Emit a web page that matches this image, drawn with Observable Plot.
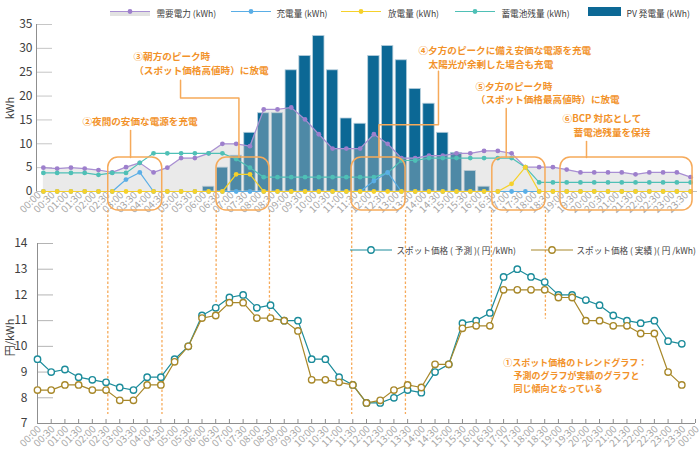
<!DOCTYPE html>
<html><head><meta charset="utf-8">
<script src="https://cdn.jsdelivr.net/npm/d3@7"></script>
<script src="https://cdn.jsdelivr.net/npm/@observablehq/plot@0.6"></script>
<style>
body{margin:0;background:#fff;font-family:"Noto Sans CJK JP","Noto Sans",sans-serif;}
#wrap{position:relative;width:700px;height:465px;overflow:hidden;}
#top,#bottom{position:absolute;left:0;}
#top{top:0}
#bottom{top:230px}
.lt{position:absolute;color:#404040;white-space:nowrap;line-height:16px;}
.sw{position:absolute;overflow:visible}
</style></head>
<body><div id="wrap"><div id="top"></div><div id="bottom"></div><div id="legTop"></div><div id="legBottom"></div></div>
<script>
// ---------- data ----------
const times = ["00:00","00:30","01:00","01:30","02:00","02:30","03:00","03:30","04:00","04:30","05:00","05:30","06:00","06:30","07:00","07:30","08:00","08:30","09:00","09:30","10:00","10:30","11:00","11:30","12:00","12:30","13:00","13:30","14:00","14:30","15:00","15:30","16:00","16:30","17:00","17:30","18:00","18:30","19:00","19:30","20:00","20:30","21:00","21:30","22:00","22:30","23:00","23:30"];
const bottomLabels = [...times, "00:00"];

const pv = [0,0,0,0,0,0,0,0,0,0,0,0,1.0,5.0,7.5,12.3,16.4,16.4,25.4,28.4,32.6,25.4,15.3,14.2,28.4,30.5,27.5,21.5,18.4,12.3,8.1,4.3,1.0,0,0,0,0,0,0,0,0,0,0,0,0,0,0,0];
const demand = [5.0,4.8,5.0,4.8,4.5,4.0,5.1,6.0,4.0,5.0,7.0,7.0,8.0,10.0,10.0,9.5,17.2,17.2,17.6,15.1,12.0,9.0,9.0,9.0,12.0,10.0,7.0,7.0,7.5,7.5,8.0,8.0,8.5,8.5,8.0,5.1,5.1,5.1,4.6,4.0,4.0,4.0,4.0,3.6,4.0,4.0,4.0,3.0];
const battery = [3.9,3.9,3.9,3.9,3.5,3.9,3.9,6.0,8.0,8.0,8.0,8.0,8.0,8.0,6.8,5.0,3.0,3.0,3.0,3.0,3.0,3.0,3.0,3.0,3.0,3.9,6.5,6.5,7.0,7.0,7.0,7.0,7.0,7.0,7.0,5.1,1.9,1.9,1.9,1.9,1.9,1.9,1.9,1.9,1.9,1.9,1.9,1.9];
const charge = [0,0,0,0,0,0,2.5,4.0,0,0,0,0,0,0,0,0,0,0,0,0,0,0,0,0,2.2,4.0,0,0,0,0,0,0,0,0,0,0,0,0,0,0,0,0,0,0,0,0,0,0];
const discharge = [0,0,0,0,0,0,0,0,0,0,0,0,0,0,3.6,3.6,0,0,0,0,0,0,0,0,0,0,0,0,0,0,0,0,0,0,1.6,5.1,0,0,0,0,0,0,0,0,0,0,0,0];

const pricePred = [9.5,9.0,9.1,8.8,8.7,8.6,8.4,8.3,8.8,8.8,9.5,10.0,11.2,11.5,11.9,12.0,11.5,11.6,11.0,11.0,9.5,9.5,8.8,8.5,7.8,7.8,8.0,8.3,8.2,9.0,9.3,10.9,11.0,11.3,12.7,13.0,12.7,12.5,12.0,12.0,11.8,11.6,11.2,11.0,10.9,11.0,10.2,10.1];
const priceAct = [8.3,8.3,8.5,8.5,8.3,8.3,7.9,7.9,8.5,8.5,9.4,10.0,11.1,11.2,11.7,11.7,11.1,11.1,11.0,10.6,8.7,8.7,8.6,8.5,7.8,7.9,8.3,8.5,8.4,9.3,9.3,10.7,10.8,10.8,12.2,12.2,12.2,12.2,11.9,11.9,11.0,11.0,10.8,10.8,10.5,10.5,9.0,8.5];

const topTicks = [0,5,10,15,20,25,30,35];
const bottomTicks = [7,8,9,10,11,12,13,14];

const seriesNames = ["需要電力 (kWh)","充電量 (kWh)","放電量 (kWh)","蓄電池残量 (kWh)","PV 発電量 (kWh)"];
const priceNames = ["スポット価格 ( 予測 )( 円 /kWh)","スポット価格 ( 実績 )( 円 /kWh)"];

// annotations (top chart in slot units, bottom chart in time-index units)
const annoBoxes = [{u1:4.71,u2:8.63},{u1:12.57,u2:16.42},{u1:22.38,u2:26.30},{u1:32.6,u2:36.46},{u1:37.55,u2:47.14}];
const annoTexts = [
  {u:2.84, v:14.5, t:"②夜間の安価な電源を充電"},
  {u:6.54, v:28.2, t:"③朝方のピーク時"},
  {u:6.6, v:25.2, t:"（スポット価格高値時）に放電"},
  {u:27.24, v:29.5, t:"④夕方のピークに備え安価な電源を充電"},
  {u:27.97, v:26.6, t:"太陽光が余剰した場合も充電"},
  {u:31.38, v:21.9, t:"⑤夕方のピーク時"},
  {u:31.4, v:19.2, t:"（スポット価格最高値時）に放電"},
  {u:37.7, v:15.2, t:"⑥BCP 対応として"},
  {u:38.5, v:12.2, t:"蓄電池残量を保持"}
];
const leaders = [
  {id:2,u:6.33,v:12.8},{id:2,u:6.33,v:7.1},
  {id:3,u:9.96,v:23.3},{id:3,u:9.96,v:19.6},{id:3,u:14.2,v:19.6},{id:3,u:14.2,v:7.1},
  {id:4,u:28.69,v:25.2},{id:4,u:28.69,v:14.0},{id:4,u:24.37,v:14.0},{id:4,u:24.37,v:7.1},
  {id:5,u:33.61,v:17.4},{id:5,u:33.61,v:7.1},
  {id:6,u:39.44,v:10.5},{id:6,u:39.44,v:7.1}
];
const dottedTop = [4.68,8.61,12.55,16.42,22.4,26.3,32.54,36.46];
const dottedBottom = [{j:5.13,end:7.35},{j:9.08,end:7.35},{j:13.03,end:11.05},{j:16.92,end:11.05},{j:22.92,end:7.35},{j:26.84,end:7.35},{j:33.11,end:11.05},{j:37.05,end:11.05}];
const noteText = [
  {j:33.97, v:9.36, t:"①スポット価格のトレンドグラフ："},
  {j:34.72, v:8.83, t:"予測のグラフが実績のグラフと"},
  {j:34.72, v:8.32, t:"同じ傾向となっている"}
];

// ---------- styles ----------
const FONT = '"Noto Sans CJK JP","Noto Sans",sans-serif';
const C = {pv:"#0c6895", pvStroke:"#b7cfdc", area:"#c4c4c4", demand:"#a98fd3", demandDot:"#9d7fcc",
  battery:"#4fc0b6", charge:"#5aaee6", discharge:"#f6d12b",
  pred:"#1c8c9b", act:"#a8882a", oText:"#f2922a", oLine:"#f6aa5a", axis:"#8f8f8f"};

const rowsTop = times.map((t,i)=>({i, t, pv:pv[i], demand:demand[i], battery:battery[i], charge:charge[i], discharge:discharge[i]}));
const rowsBottom = times.map((t,i)=>({i, t, pred:pricePred[i], act:priceAct[i]}));

const W = 700;
const topM = {l:36, r:3, t:24, b:39};
const botM = {l:37, r:5, t:13, b:42};

function series(key, color, dotColor){
  return [
    Plot.line(rowsTop, {x:"i", y:key, stroke:color, strokeWidth:1.2}),
    Plot.dot(rowsTop, {x:"i", y:key, r:2.4, fill:dotColor||color})
  ];
}

const topPlot = Plot.plot({
  width: W, height: 230,
  marginLeft: topM.l, marginRight: topM.r, marginTop: topM.t, marginBottom: topM.b,
  style: {background:"transparent", overflow:"visible", fontFamily: FONT, fontSize:"10px"},
  x: {domain:[-0.5, 47.5], label:null},
  y: {domain:[0, 35], label:null},
  marks: [
    Plot.ruleY(topTicks.filter(d=>d>0), {stroke:"#c6c6c6", insetRight: (W-topM.l-topM.r) - 16}),
    Plot.rectY(rowsTop.filter(d=>d.pv>0), {x1:d=>d.i-0.5, x2:d=>d.i+0.5, y:"pv", insetLeft:1.2, insetRight:1.2, fill:C.pv, stroke:C.pvStroke, strokeWidth:0.8}),
    Plot.areaY(rowsTop, {x:"i", y:"demand", fill:C.area, fillOpacity:0.36}),
    Plot.ruleX([-0.5], {stroke:C.axis}),
    Plot.ruleY([0], {stroke:"#c0c0c0"}),
    ...series("demand", C.demand, C.demandDot),
    ...series("battery", C.battery),
    ...series("charge", C.charge),
    ...series("discharge", C.discharge),
    Plot.axisY({ticks: topTicks, tickFormat: d=>String(d), tickSize:0, tickPadding:4, fontSize:12, color:"#404040", label:null}),
    Plot.axisX({ticks: d3.range(times.length), tickFormat: i=>times[i], tickRotate:-45, tickSize:0, tickPadding:2, dx:-4, fontSize:10, color:"#a8a8a8", label:null}),
    Plot.text(["kWh"], {text:d=>d, frameAnchor:"left", textAnchor:"middle", rotate:-90, dx:-26, fontSize:11, fill:"#404040"}),
    Plot.rect(annoBoxes, {x1:"u1", x2:"u2", y1:-3.98, y2:7.1, rx:10, fill:"none", stroke:C.oLine, strokeWidth:1.5}),
    Plot.line(leaders, {x:"u", y:"v", z:"id", stroke:C.oLine, strokeWidth:1.5}),
    Plot.ruleX(dottedTop, {x:d=>d, y1:-3.98, y2:-8.7, stroke:C.oLine, strokeWidth:1.3, strokeDasharray:"2.5,2"}),
    Plot.text(annoTexts, {x:"u", y:"v", text:"t", textAnchor:"start", fill:C.oText, fontWeight:"bold", fontSize:9.6})
  ]
});
document.getElementById("top").append(topPlot);

const bottomPlot = Plot.plot({
  width: W, height: 235,
  marginLeft: botM.l, marginRight: botM.r, marginTop: botM.t, marginBottom: botM.b,
  style: {background:"transparent", overflow:"visible", fontFamily: FONT, fontSize:"10px"},
  x: {domain:[0, 48], label:null},
  y: {domain:[7, 14], label:null},
  marks: [
    Plot.ruleY(bottomTicks.filter(d=>d>7), {stroke:"#b4b4b4", insetRight:(W-botM.l-botM.r) - 16}),
    Plot.ruleX(dottedBottom, {x:"j", y1:14.6, y2:"end", stroke:C.oLine, strokeWidth:1.3, strokeDasharray:"2.5,2"}),
    Plot.ruleX([0], {stroke:C.axis}),
    Plot.ruleY([7], {stroke:C.axis}),
    Plot.axisX({ticks: d3.range(1, bottomLabels.length), tickSize:4, dy:-4, fill:"none", stroke:C.axis, label:null}),
    Plot.axisX({ticks: d3.range(bottomLabels.length), tickFormat: i=>bottomLabels[i], tickRotate:-45, tickSize:0, tickPadding:4, dx:2, fontSize:10, color:"#a8a8a8", label:null}),
    Plot.axisY({ticks: bottomTicks, tickFormat: d=>String(d), tickSize:0, tickPadding:10, fontSize:12, color:"#404040", label:null}),
    Plot.text(["円/kWh"], {text:d=>d, frameAnchor:"left", textAnchor:"middle", rotate:-90, dx:-27, dy:4, fontSize:11, fill:"#404040"}),
    Plot.line(rowsBottom, {x:"i", y:"pred", stroke:C.pred, strokeWidth:1.2}),
    Plot.line(rowsBottom, {x:"i", y:"act", stroke:C.act, strokeWidth:1.2}),
    Plot.dot(rowsBottom, {x:"i", y:"pred", r:3.2, fill:"white", stroke:C.pred, strokeWidth:1.4}),
    Plot.dot(rowsBottom, {x:"i", y:"act", r:3.2, fill:"white", stroke:C.act, strokeWidth:1.4}),
    Plot.text(noteText, {x:"j", y:"v", text:"t", textAnchor:"start", fill:C.oText, fontWeight:"bold", fontSize:9.0})
  ]
});
document.getElementById("bottom").append(bottomPlot);

// ---------- legends ----------
function sw(left, top, w, h, inner){
  return `<svg class="sw" style="left:${left}px;top:${top}px" width="${w}" height="${h}">${inner}</svg>`;
}
const lt = (left, top, size, txt) => `<div class="lt" style="left:${left}px;top:${top}px;font-size:${size}px">${txt}</div>`;
let htmlTop = "";
htmlTop += sw(110, 4, 41, 14, `<rect x="0" y="7.5" width="40" height="4.5" fill="#e2e2e2"/><line x1="0" x2="40" y1="7.5" y2="7.5" stroke="${C.demand}" stroke-width="1.2"/><circle cx="20" cy="7.5" r="2.4" fill="${C.demandDot}"/>`);
htmlTop += lt(156.5, 4.5, 8.6, seriesNames[0]);
htmlTop += sw(231, 4, 41, 14, `<line x1="0" x2="40" y1="7.5" y2="7.5" stroke="${C.charge}" stroke-width="1.2"/><circle cx="20" cy="7.5" r="2.4" fill="${C.charge}"/>`);
htmlTop += lt(276.5, 4.5, 8.6, seriesNames[1]);
htmlTop += sw(341, 4, 41, 14, `<line x1="0" x2="40" y1="7.5" y2="7.5" stroke="${C.discharge}" stroke-width="1.2"/><circle cx="20" cy="7.5" r="2.4" fill="${C.discharge}"/>`);
htmlTop += lt(388, 4.5, 8.6, seriesNames[2]);
htmlTop += sw(455, 4, 41, 14, `<line x1="0" x2="40" y1="7.5" y2="7.5" stroke="${C.battery}" stroke-width="1.2"/><circle cx="20" cy="7.5" r="2.4" fill="${C.battery}"/>`);
htmlTop += lt(501.5, 4.5, 8.6, seriesNames[3]);
htmlTop += sw(588, 4, 34, 14, `<rect x="0" y="3" width="33" height="9" fill="${C.pv}"/>`);
htmlTop += lt(626.5, 4.5, 8.6, seriesNames[4]);
document.getElementById("legTop").innerHTML = htmlTop;

let htmlBot = "";
htmlBot += sw(350, 243, 43, 14, `<line x1="0" x2="42" y1="7" y2="7" stroke="${C.pred}" stroke-width="1.2"/><circle cx="21" cy="7" r="3.2" fill="white" stroke="${C.pred}" stroke-width="1.4"/>`);
htmlBot += lt(396.5, 242, 8.6, priceNames[0]);
htmlBot += sw(531, 243, 43, 14, `<line x1="0" x2="42" y1="7" y2="7" stroke="${C.act}" stroke-width="1.2"/><circle cx="21" cy="7" r="3.2" fill="white" stroke="${C.act}" stroke-width="1.4"/>`);
htmlBot += lt(576.5, 242, 8.6, priceNames[1]);
document.getElementById("legBottom").innerHTML = htmlBot;
</script>
</body></html>
